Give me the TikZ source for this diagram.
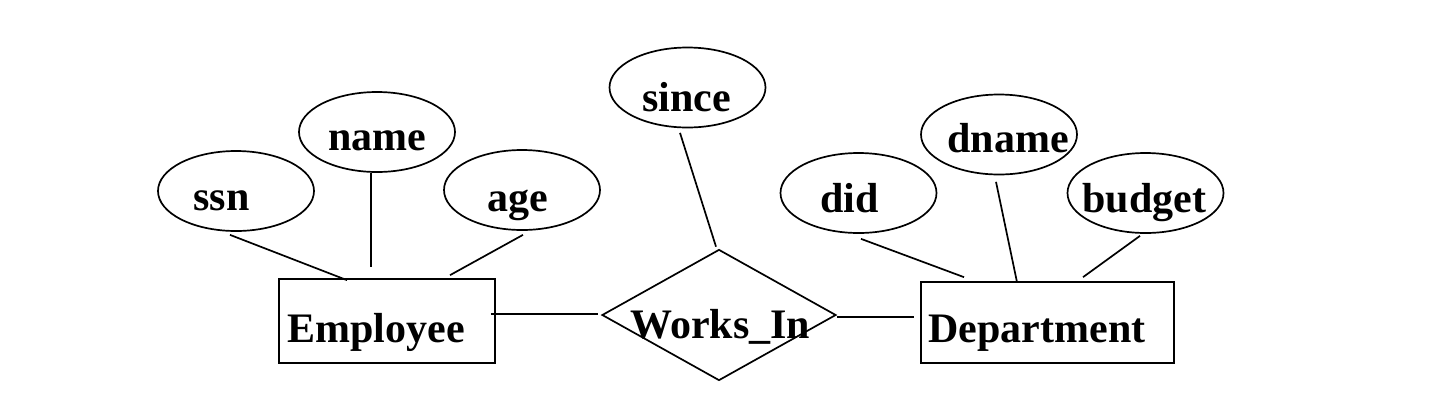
\documentclass[tikz,border=0pt]{standalone}
\usepackage{fontspec}
\setmainfont{Liberation Serif}
\usetikzlibrary{shapes.geometric}
\tikzset{
  attr/.style={draw, ellipse, line width=0.85pt, minimum width=78pt, minimum height=40pt, inner sep=0pt},
  entity/.style={draw, rectangle, line width=0.85pt, inner sep=0pt},
  rel/.style={draw, diamond, line width=0.85pt, minimum width=117pt, minimum height=65.5pt, inner sep=0pt},
  txt/.style={anchor=base west, inner sep=0pt, font=\fontsize{21}{25}\selectfont\bfseries},
  conn/.style={line width=0.85pt}
}
\begin{document}
\begin{tikzpicture}[x=0.5pt,y=-0.5pt]
\useasboundingbox[fill=white] (0,0) rectangle (1450,414);
% shapes
\node[attr] (ssn) at (236,191) {};
\node[attr] (name) at (377,132) {};
\node[attr] (age) at (522,190) {};
\node[entity, minimum width=108pt, minimum height=42pt] (emp) at (387,321) {};
\node[rel] (rel) at (719,315) {};
\node[attr] (since) at (687.5,87.5) {};
\node[attr] (did) at (858.5,193) {};
\node[attr] (dname) at (999,134.5) {};
\node[attr] (budget) at (1145.5,193) {};
\node[entity, minimum width=126.5pt, minimum height=40.5pt] (dept) at (1047.5,322.5) {};
% texts
\node[txt] (ssnt) at (193,210) {ssn};
\node[txt] (namet) at (328,150) {name};
\node[txt] (aget) at (487,211) {age};
\node[txt] (empt) at (287,342) {Employee};
\node[txt] (sincet) at (642,111) {since};
\node[txt] (relt) at (630,338) {Works\_In};
\node[txt] (didt) at (820,212) {did};
\node[txt] (dnamet) at (947,152) {dname};
\node[txt] (budgett) at (1082,212) {budget};
\node[txt] (deptt) at (928,342) {Department};
% connectors
\draw[conn] ([shift={(-6,3)}]ssn.south) -- ([shift={(-40,2)}]emp.north);
\draw[conn] ([shift={(-6,0)}]name.south) -- ([shift={(-16,-11)}]emp.north);
\draw[conn] ([shift={(1,4)}]age.south) -- ([shift={(63,-3)}]emp.north);
\draw[conn] ([shift={(-5,-7)}]emp.east) -- ([shift={(-3,-1)}]rel.west);
\draw[conn] ([shift={(-7.5,4.5)}]since.south) -- ([shift={(-3,-2)}]rel.north);
\draw[conn] ([shift={(0,2)}]rel.east) -- ([shift={(-6,-5.5)}]dept.west);
\draw[conn] ([shift={(2.5,5)}]did.south) -- ([shift={(-83.5,-4)}]dept.north);
\draw[conn] ([shift={(-3,6.5)}]dname.south) -- ([shift={(-30.5,1)}]dept.north);
\draw[conn] ([shift={(-5.5,2)}]budget.south) -- ([shift={(35.5,-4)}]dept.north);
\end{tikzpicture}
\end{document}
